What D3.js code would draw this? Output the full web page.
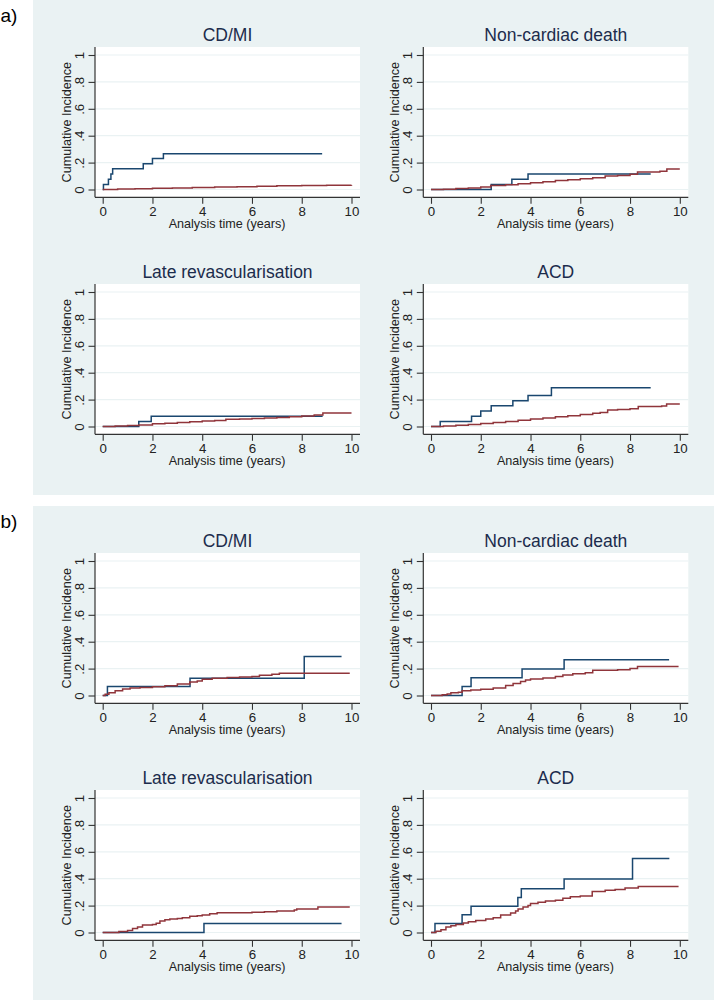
<!DOCTYPE html>
<html>
<head>
<meta charset="utf-8">
<script src="https://cdn.jsdelivr.net/npm/d3@7"></script>
<style>
    body { margin: 0; background: #ffffff; }
    svg { display: block; font-family: "Liberation Sans", Arial, sans-serif; }
</style>
</head>
<body>
<div id="chart"></div>
<script>
// tick values and labels
const xTicks = [0, 2, 4, 6, 8, 10];
const yTicks = [0, 0.2, 0.4, 0.6, 0.8, 1];
const yTickLabels = ["0", ".2", ".4", ".6", ".8", "1"];
const panelTitles = ["CD/MI", "Non-cardiac death", "Late revascularisation", "ACD"];
const groupLabels = ["a)", "b)"];

// a) cumulative incidence, [years, value]
const aCdmiBlue = [[0,0],[0.03,0.038],[0.23,0.077],[0.33,0.115],[0.40,0.154],[1.63,0.192],[2.0,0.231],[2.44,0.266],[8.82,0.266]];
const aCdmiRed = [[0,0],[0.6,0.003],[1.3,0.006],[2,0.009],[2.8,0.012],[3.6,0.015],[4.5,0.018],[5.4,0.021],[6.2,0.024],[7,0.027],[8,0.029],[9,0.031],[10,0.032]];
const aNcdBlue = [[0,0],[2.42,0.038],[3.25,0.077],[3.9,0.115],[8.83,0.115]];
const aNcdRed = [[0,0],[0.5,0.002],[1,0.008],[1.5,0.012],[2,0.018],[2.4,0.03],[3,0.035],[3.5,0.042],[4,0.05],[4.5,0.058],[5,0.066],[5.5,0.072],[6,0.08],[6.5,0.088],[7,0.1],[7.5,0.105],[8,0.113],[8.3,0.13],[9.2,0.135],[9.48,0.153],[10,0.153]];
const aLrBlue = [[0,0],[1.45,0.038],[1.95,0.077],[8.84,0.077]];
const aLrRed = [[0,0],[0.5,0.003],[1,0.008],[1.45,0.012],[2,0.02],[2.5,0.025],[3,0.03],[3.5,0.035],[4,0.04],[4.5,0.045],[4.95,0.053],[5.5,0.056],[6,0.06],[6.5,0.063],[7,0.066],[7.5,0.072],[8,0.078],[8.5,0.085],[8.85,0.1],[10,0.1]];
const aAcdBlue = [[0,0],[0.37,0.038],[1.63,0.077],[2.0,0.115],[2.42,0.154],[3.29,0.192],[3.9,0.231],[4.84,0.289],[8.83,0.289]];
const aAcdRed = [[0,0],[0.5,0.004],[1,0.009],[1.5,0.015],[2,0.022],[2.5,0.03],[3,0.038],[3.5,0.046],[4,0.055],[4.5,0.063],[5,0.072],[5.5,0.08],[6,0.09],[6.5,0.098],[6.8,0.105],[7.1,0.122],[7.5,0.127],[8,0.132],[8.33,0.148],[9.27,0.153],[9.47,0.168],[10,0.168]];

// b) cumulative incidence, [years, value]
const bCdmiBlue = [[0,0],[0.19,0.067],[3.51,0.129],[8.1,0.29],[9.6,0.29]];
const bCdmiRed = [[0,0],[0.1,0.01],[0.25,0.02],[0.5,0.035],[0.8,0.048],[1.1,0.056],[1.5,0.06],[2,0.065],[2.5,0.072],[3,0.085],[3.5,0.1],[3.8,0.108],[4,0.12],[4.4,0.128],[5,0.134],[5.5,0.137],[6,0.142],[6.3,0.15],[6.8,0.158],[7.1,0.165],[9.93,0.165]];
const bNcdBlue = [[0,0],[1.25,0.067],[1.61,0.132],[3.66,0.197],[5.35,0.266],[9.57,0.266]];
const bNcdRed = [[0,0],[0.45,0.005],[0.65,0.012],[0.8,0.02],[1.1,0.025],[1.25,0.035],[1.6,0.04],[2,0.046],[2.5,0.055],[3,0.075],[3.3,0.09],[3.6,0.105],[3.8,0.115],[4,0.122],[4.5,0.13],[5,0.142],[5.3,0.152],[5.7,0.162],[6.2,0.17],[6.5,0.188],[7.5,0.192],[8,0.2],[8.3,0.216],[9.95,0.216]];
const bLrBlue = [[0,0],[4.07,0.067],[9.6,0.067]];
const bLrRed = [[0,0],[0.65,0.008],[1.0,0.015],[1.2,0.03],[1.4,0.04],[1.6,0.055],[2.0,0.06],[2.15,0.068],[2.3,0.085],[2.5,0.095],[2.7,0.1],[3.0,0.105],[3.2,0.11],[3.5,0.12],[3.8,0.125],[4.0,0.13],[4.3,0.14],[4.6,0.146],[6.0,0.15],[6.5,0.155],[7.0,0.16],[7.7,0.168],[7.8,0.175],[8.65,0.19],[9.93,0.19]];
const bAcdBlue = [[0,0],[0.16,0.067],[1.25,0.132],[1.61,0.196],[3.49,0.26],[3.63,0.325],[5.35,0.397],[8.1,0.551],[9.58,0.551]];
const bAcdRed = [[0,0],[0.2,0.01],[0.4,0.02],[0.6,0.04],[0.8,0.05],[1.0,0.06],[1.3,0.07],[1.5,0.08],[1.8,0.09],[2.2,0.1],[2.5,0.11],[2.8,0.13],[3.2,0.145],[3.4,0.16],[3.5,0.175],[3.7,0.19],[3.9,0.2],[4.0,0.215],[4.3,0.225],[4.6,0.235],[5.0,0.24],[5.3,0.255],[5.6,0.265],[6.0,0.272],[6.48,0.305],[7.0,0.315],[7.4,0.32],[7.8,0.33],[8.33,0.342],[9.95,0.342]];

const groups = [
    [[aCdmiBlue, aCdmiRed], [aNcdBlue, aNcdRed], [aLrBlue, aLrRed], [aAcdBlue, aAcdRed]],
    [[bCdmiBlue, bCdmiRed], [bNcdBlue, bNcdRed], [bLrBlue, bLrRed], [bAcdBlue, bAcdRed]]
];

const width = 714, height = 1002;
const bg = "#eaf2f3", navy = "#1a476f", maroon = "#90353b";
const boxTops = [0, 506], boxHeights = [495, 494];
const colLefts = [95, 423.3], rowTops = [47, 284];
const plotW = 265, plotH = 150.3;

const svg = d3.select("#chart").append("svg")
    .attr("width", width)
    .attr("height", height);

groups.forEach(function (panels, g) {
    const top = boxTops[g];
    svg.append("rect")
        .attr("x", 33).attr("y", top)
        .attr("width", width - 33).attr("height", boxHeights[g])
        .attr("fill", bg);

    svg.append("text")
        .attr("x", 0.5).attr("y", top + 22)
        .attr("font-size", 19)
        .attr("fill", "#000")
        .text(groupLabels[g]);

    panels.forEach(function (series, p) {
        const left = colLefts[p % 2], pTop = top + rowTops[Math.floor(p / 2)];
        const x = d3.scaleLinear().domain([0, 10]).range([left + 7.7, left + 256.5]);
        const y = d3.scaleLinear().domain([0, 1]).range([pTop + 142.5, pTop + 8]);
        const cell = svg.append("g");

        cell.append("rect")
            .attr("x", left).attr("y", pTop)
            .attr("width", plotW).attr("height", plotH)
            .attr("fill", "#fff");

        cell.selectAll("line.grid")
            .data(yTicks)
            .enter().append("line")
            .attr("class", "grid")
            .attr("x1", left).attr("x2", left + plotW)
            .attr("y1", d => y(d)).attr("y2", d => y(d))
            .attr("stroke", bg).attr("stroke-width", 1.2);

        const line = d3.line()
            .x(d => x(d[0]))
            .y(d => y(d[1]))
            .curve(d3.curveStepAfter);

        [navy, maroon].forEach(function (c, k) {
            cell.append("path")
                .attr("d", line(series[k]))
                .attr("fill", "none")
                .attr("stroke", c)
                .attr("stroke-width", 1.5);
        });

        // y axis
        const yAxis = cell.append("g")
            .attr("transform", "translate(" + left + ",0)")
            .call(d3.axisLeft(y).tickValues(yTicks)
                .tickFormat((d, i) => yTickLabels[i])
                .tickSize(6.5).tickSizeOuter(0));
        yAxis.select(".domain").remove();
        yAxis.selectAll(".tick line").attr("stroke", "#333").attr("stroke-width", 1.1);
        yAxis.selectAll(".tick text")
            .attr("transform", "rotate(-90)")
            .attr("x", 0).attr("y", -11).attr("dy", 0)
            .attr("text-anchor", "middle")
            .attr("font-size", 13.3)
            .attr("font-family", "Liberation Sans, Arial, sans-serif")
            .attr("fill", "#222");
        cell.append("line")
            .attr("x1", left).attr("x2", left)
            .attr("y1", pTop).attr("y2", pTop + plotH)
            .attr("stroke", "#333").attr("stroke-width", 1.2);

        // x axis
        const xAxis = cell.append("g")
            .attr("transform", "translate(0," + (pTop + plotH) + ")")
            .call(d3.axisBottom(x).tickValues(xTicks).tickSize(6.5).tickSizeOuter(0));
        xAxis.select(".domain").remove();
        xAxis.selectAll(".tick line").attr("stroke", "#333").attr("stroke-width", 1.1);
        xAxis.selectAll(".tick text")
            .attr("y", 18.5).attr("dy", 0)
            .attr("font-size", 13.3)
            .attr("font-family", "Liberation Sans, Arial, sans-serif")
            .attr("fill", "#222");
        cell.append("line")
            .attr("x1", left).attr("x2", left + plotW)
            .attr("y1", pTop + plotH).attr("y2", pTop + plotH)
            .attr("stroke", "#333").attr("stroke-width", 1.2);

        cell.append("text")
            .attr("x", left + 7.7 + 124.4)
            .attr("y", pTop + plotH + 30.8)
            .attr("text-anchor", "middle")
            .attr("font-size", 12.6)
            .attr("fill", "#222")
            .text("Analysis time (years)");

        cell.append("text")
            .attr("transform", "translate(" + (left - 24.3) + "," + (pTop + 75.2) + ") rotate(-90)")
            .attr("text-anchor", "middle")
            .attr("font-size", 12.6)
            .attr("fill", "#222")
            .text("Cumulative Incidence");

        cell.append("text")
            .attr("x", left + plotW / 2)
            .attr("y", pTop - 6)
            .attr("text-anchor", "middle")
            .attr("font-size", 17.5)
            .attr("fill", "#1c2c4c")
            .text(panelTitles[p]);
    });
});
</script>
</body>
</html>
